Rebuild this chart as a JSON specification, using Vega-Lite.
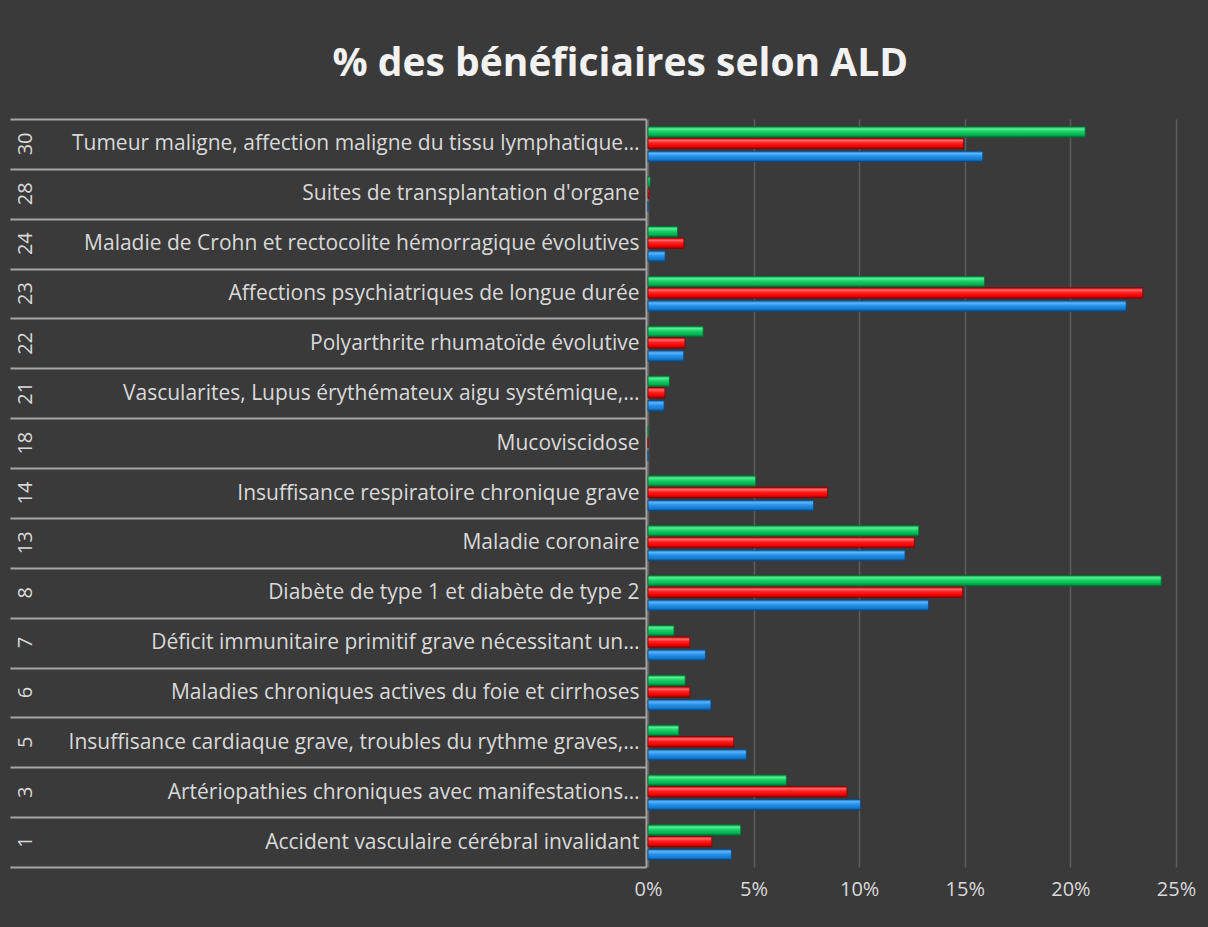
{
  "$schema": "https://vega.github.io/schema/vega-lite/v6.json",
  "autosize": "none",
  "width": 528,
  "height": 748,
  "padding": {"left": 648, "top": 119, "right": 32, "bottom": 60},
  "background": "#3a3a3a",
  "title": {
    "text": "% des bénéficiaires selon ALD",
    "anchor": "middle",
    "frame": "bounds",
    "font": "Open Sans",
    "fontSize": 39,
    "fontWeight": "bold",
    "color": "#f2f2f2",
    "offset": 24,
    "dx": 18
  },
  "config": {
    "view": {"stroke": null},
    "axis": {"labelFont": "Open Sans", "labelColor": "#d9d9d9", "labelFontSize": 21}
  },
  "data": {
    "values": [
      {"code": "30", "label": "Tumeur maligne, affection maligne du tissu lymphatique…", "serie": "Série 1", "value": 0.1585},
      {"code": "30", "label": "Tumeur maligne, affection maligne du tissu lymphatique…", "serie": "Série 2", "value": 0.1494},
      {"code": "30", "label": "Tumeur maligne, affection maligne du tissu lymphatique…", "serie": "Série 3", "value": 0.2070},
      {"code": "28", "label": "Suites de transplantation d'organe", "serie": "Série 1", "value": 0.0},
      {"code": "28", "label": "Suites de transplantation d'organe", "serie": "Série 2", "value": 0.0005},
      {"code": "28", "label": "Suites de transplantation d'organe", "serie": "Série 3", "value": 0.0010},
      {"code": "24", "label": "Maladie de Crohn et rectocolite hémorragique évolutives", "serie": "Série 1", "value": 0.0081},
      {"code": "24", "label": "Maladie de Crohn et rectocolite hémorragique évolutives", "serie": "Série 2", "value": 0.0170},
      {"code": "24", "label": "Maladie de Crohn et rectocolite hémorragique évolutives", "serie": "Série 3", "value": 0.0140},
      {"code": "23", "label": "Affections psychiatriques de longue durée", "serie": "Série 1", "value": 0.2264},
      {"code": "23", "label": "Affections psychiatriques de longue durée", "serie": "Série 2", "value": 0.2343},
      {"code": "23", "label": "Affections psychiatriques de longue durée", "serie": "Série 3", "value": 0.1593},
      {"code": "22", "label": "Polyarthrite rhumatoïde évolutive", "serie": "Série 1", "value": 0.0169},
      {"code": "22", "label": "Polyarthrite rhumatoïde évolutive", "serie": "Série 2", "value": 0.0175},
      {"code": "22", "label": "Polyarthrite rhumatoïde évolutive", "serie": "Série 3", "value": 0.0261},
      {"code": "21", "label": "Vascularites, Lupus érythémateux aigu systémique,…", "serie": "Série 1", "value": 0.0076},
      {"code": "21", "label": "Vascularites, Lupus érythémateux aigu systémique,…", "serie": "Série 2", "value": 0.0080},
      {"code": "21", "label": "Vascularites, Lupus érythémateux aigu systémique,…", "serie": "Série 3", "value": 0.0101},
      {"code": "18", "label": "Mucoviscidose", "serie": "Série 1", "value": 0.0},
      {"code": "18", "label": "Mucoviscidose", "serie": "Série 2", "value": 0.0},
      {"code": "18", "label": "Mucoviscidose", "serie": "Série 3", "value": 0.0003},
      {"code": "14", "label": "Insuffisance respiratoire chronique grave", "serie": "Série 1", "value": 0.0784},
      {"code": "14", "label": "Insuffisance respiratoire chronique grave", "serie": "Série 2", "value": 0.0850},
      {"code": "14", "label": "Insuffisance respiratoire chronique grave", "serie": "Série 3", "value": 0.0510},
      {"code": "13", "label": "Maladie coronaire", "serie": "Série 1", "value": 0.1217},
      {"code": "13", "label": "Maladie coronaire", "serie": "Série 2", "value": 0.1261},
      {"code": "13", "label": "Maladie coronaire", "serie": "Série 3", "value": 0.1282},
      {"code": "8", "label": "Diabète de type 1 et diabète de type 2", "serie": "Série 1", "value": 0.1328},
      {"code": "8", "label": "Diabète de type 1 et diabète de type 2", "serie": "Série 2", "value": 0.1490},
      {"code": "8", "label": "Diabète de type 1 et diabète de type 2", "serie": "Série 3", "value": 0.2430},
      {"code": "7", "label": "Déficit immunitaire primitif grave nécessitant un…", "serie": "Série 1", "value": 0.0272},
      {"code": "7", "label": "Déficit immunitaire primitif grave nécessitant un…", "serie": "Série 2", "value": 0.0198},
      {"code": "7", "label": "Déficit immunitaire primitif grave nécessitant un…", "serie": "Série 3", "value": 0.0123},
      {"code": "6", "label": "Maladies chroniques actives du foie et cirrhoses", "serie": "Série 1", "value": 0.0298},
      {"code": "6", "label": "Maladies chroniques actives du foie et cirrhoses", "serie": "Série 2", "value": 0.0198},
      {"code": "6", "label": "Maladies chroniques actives du foie et cirrhoses", "serie": "Série 3", "value": 0.0176},
      {"code": "5", "label": "Insuffisance cardiaque grave, troubles du rythme graves,…", "serie": "Série 1", "value": 0.0466},
      {"code": "5", "label": "Insuffisance cardiaque grave, troubles du rythme graves,…", "serie": "Série 2", "value": 0.0406},
      {"code": "5", "label": "Insuffisance cardiaque grave, troubles du rythme graves,…", "serie": "Série 3", "value": 0.0146},
      {"code": "3", "label": "Artériopathies chroniques avec manifestations…", "serie": "Série 1", "value": 0.1006},
      {"code": "3", "label": "Artériopathies chroniques avec manifestations…", "serie": "Série 2", "value": 0.0942},
      {"code": "3", "label": "Artériopathies chroniques avec manifestations…", "serie": "Série 3", "value": 0.0655},
      {"code": "1", "label": "Accident vasculaire cérébral invalidant", "serie": "Série 1", "value": 0.0395},
      {"code": "1", "label": "Accident vasculaire cérébral invalidant", "serie": "Série 2", "value": 0.0302},
      {"code": "1", "label": "Accident vasculaire cérébral invalidant", "serie": "Série 3", "value": 0.0439}
    ]
  },
  "transform": [{"calculate": "datum.code + '|' + datum.label", "as": "cat"}],
  "encoding": {
    "x": {
      "field": "value",
      "type": "quantitative",
      "scale": {"domain": [0, 0.25], "nice": false},
      "axis": {
        "values": [0, 0.05, 0.1, 0.15, 0.2, 0.25],
        "format": ".0%",
        "grid": true,
        "gridColor": "#5e5e5e",
        "gridWidth": 1.5,
        "domain": false,
        "ticks": false,
        "labelFlush": false,
        "labelFontSize": 20,
        "labelPadding": 12,
        "title": null
      }
    }
  },
  "layer": [
    {
      "transform": [{"filter": "datum.serie === 'Série 1'"}],
      "mark": {
        "type": "bar", "height": 10.5, "yOffset": 12.5, "stroke": "#0a4a85", "strokeWidth": 0.8,
        "fill": {"gradient": "linear", "x1": 0, "y1": 0, "x2": 0, "y2": 1, "stops": [
          {"offset": 0, "color": "#1a6fb8"}, {"offset": 0.22, "color": "#5ab4ff"}, {"offset": 0.45, "color": "#2a93ea"}, {"offset": 0.8, "color": "#1479cc"}, {"offset": 1, "color": "#0a4a85"}
        ]}
      },
      "encoding": {
        "y": {
          "field": "cat",
          "type": "nominal",
          "sort": null,
          "scale": {"paddingInner": 0, "paddingOuter": 0},
          "axis": {
            "orient": "left",
            "offset": 2,
            "title": null,
            "domain": true,
            "domainColor": "#a6a6a6",
            "domainWidth": 2,
            "ticks": true,
            "tickBand": "extent",
            "tickSize": 636,
            "tickColor": "#a6a6a6",
            "tickWidth": 2,
            "labelAlign": "right",
            "labelBaseline": "middle",
            "labelPadding": -629,
            "labelLimit": 800,
            "labelExpr": "datum.value ? (indexof(datum.value, '…') >= 0 ? split(datum.value, '|')[1] : split(datum.value, '|')[1] + '\u00a0\u00a0\u00a0') : ''"
          }
        }
      }
    },
    {
      "transform": [{"filter": "datum.serie === 'Série 2'"}],
      "mark": {
        "type": "bar", "height": 10.5, "yOffset": -0.5, "stroke": "#8a0000", "strokeWidth": 0.8,
        "fill": {"gradient": "linear", "x1": 0, "y1": 0, "x2": 0, "y2": 1, "stops": [
          {"offset": 0, "color": "#c00000"}, {"offset": 0.22, "color": "#ff6a6a"}, {"offset": 0.45, "color": "#ff2020"}, {"offset": 0.8, "color": "#ee0000"}, {"offset": 1, "color": "#8a0000"}
        ]}
      },
      "encoding": {
        "y": {"field": "cat", "type": "nominal", "sort": null, "axis": null}
      }
    },
    {
      "transform": [{"filter": "datum.serie === 'Série 3'"}],
      "mark": {
        "type": "bar", "height": 10.5, "yOffset": -12, "stroke": "#006e30", "strokeWidth": 0.8,
        "fill": {"gradient": "linear", "x1": 0, "y1": 0, "x2": 0, "y2": 1, "stops": [
          {"offset": 0, "color": "#0c9a4c"}, {"offset": 0.22, "color": "#55f092"}, {"offset": 0.45, "color": "#1bd069"}, {"offset": 0.8, "color": "#00b050"}, {"offset": 1, "color": "#006e30"}
        ]}
      },
      "encoding": {
        "y": {"field": "cat", "type": "nominal", "sort": null, "axis": null}
      }
    },
    {
      "transform": [{"filter": "datum.serie === 'Série 1'"}],
      "mark": {"type": "bar", "opacity": 0},
      "encoding": {
        "y": {
          "field": "cat",
          "type": "nominal",
          "sort": null,
          "axis": {
            "orient": "left",
            "offset": 2,
            "title": null,
            "domain": false,
            "ticks": false,
            "labelAngle": 270,
            "labelAlign": "center",
            "labelBaseline": "middle",
            "labelFontSize": 20,
            "labelPadding": 621,
            "labelExpr": "datum.value ? split(datum.value, '|')[0] : ''"
          }
        }
      }
    }
  ],
  "resolve": {"axis": {"y": "independent"}}
}
